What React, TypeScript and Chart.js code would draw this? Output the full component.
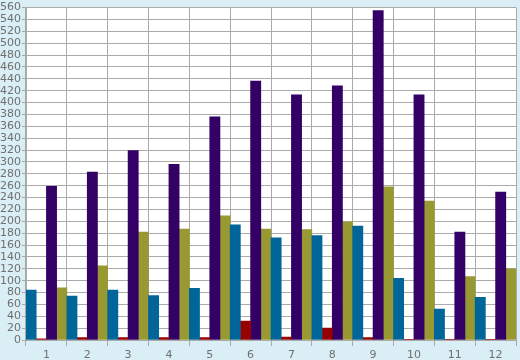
import React, { useEffect, useRef } from "react";
import { Chart, registerables } from "chart.js";

Chart.register(...registerables);

const categories = ["1", "2", "3", "4", "5", "6", "7", "8", "9", "10", "11", "12"];
const blueSeries = [84, 74, 84, 75, 87, 194, 172, 176, 192, 104, 52, 72];
const redSeries = [2, 4, 4, 4, 4, 32, 5, 20, 4, 1, 1, 1];
const purpleSeries = [259, 283, 319, 296, 376, 436, 413, 428, 555, 413, 182, 249];
const oliveSeries = [88, 125, 182, 187, 209, 187, 186, 199, 258, 234, 107, 120];
const yMin = 0;
const yMax = 560;
const yStep = 20;

const plotBg = {
  id: "plotBg",
  beforeDraw(chart: any) {
    const { ctx, chartArea } = chart;
    ctx.save();
    ctx.fillStyle = "#ffffff";
    ctx.fillRect(chartArea.left, chartArea.top, chartArea.right - chartArea.left, chartArea.bottom - chartArea.top);
    ctx.restore();
  },
};

export default function App() {
  const ref = useRef<HTMLCanvasElement | null>(null);
  useEffect(() => {
    document.body.style.margin = "0";
    document.body.style.background = "#d9eef5";
    const canvas = ref.current;
    if (!canvas) return;
    const chart = new Chart(canvas, {
      type: "bar",
      data: {
        labels: categories,
        datasets: [
          { data: blueSeries, backgroundColor: "#006699" },
          { data: redSeries, backgroundColor: "#990000" },
          { data: purpleSeries, backgroundColor: "#330066" },
          { data: oliveSeries, backgroundColor: "#999933" },
        ],
      },
      options: {
        animation: false,
        responsive: false,
        maintainAspectRatio: false,
        layout: { padding: { top: 5, right: 4, left: 0, bottom: 0 } },
        plugins: { legend: { display: false }, tooltip: { enabled: false } },
        datasets: { bar: { categoryPercentage: 1, barPercentage: 1 } },
        scales: {
          x: {
            grid: { color: "#aaaaaa", offset: true, tickLength: 6, lineWidth: 1 },
            border: { color: "#aaaaaa" },
            ticks: { color: "#707070", font: { family: "DejaVu Sans", size: 11 }, padding: 3, maxRotation: 0, autoSkip: false },
            afterFit: (s: any) => { s.height = 20; },
          },
          y: {
            min: yMin,
            max: yMax,
            grid: { color: "#aaaaaa", tickLength: 4, lineWidth: 1 },
            border: { color: "#aaaaaa" },
            ticks: { stepSize: yStep, autoSkip: false, color: "#707070", font: { family: "DejaVu Sans", size: 11 }, padding: 1 },
            afterFit: (s: any) => { s.width = 26; },
          },
        },
      },
      plugins: [plotBg],
    });
    return () => chart.destroy();
  }, []);
  return (
    <div style={{ width: 520, height: 360, background: "#d9eef5" }}>
      <canvas ref={ref} width={520} height={360} style={{ display: "block" }} />
    </div>
  );
}
